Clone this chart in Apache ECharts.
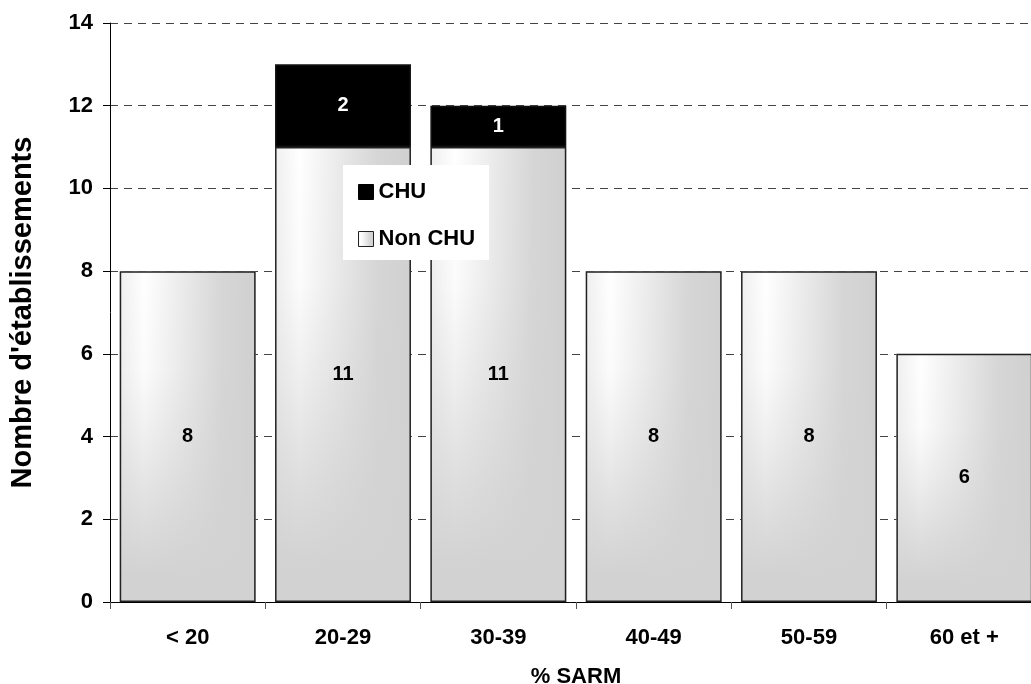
<!DOCTYPE html>
<html>
<head>
<meta charset="utf-8">
<script src="https://cdn.jsdelivr.net/npm/echarts@6/dist/echarts.min.js"></script>
<style>
html,body{margin:0;padding:0;background:#fff;}
#chart{width:1031px;height:684px;}
</style>
</head>
<body>
<div id="chart"></div>
<script>
const categories = ['< 20', '20-29', '30-39', '40-49', '50-59', '60 et +'];
const nonChuValues = [8, 11, 11, 8, 8, 6];
const chuValues = [0, 2, 1, 0, 0, 0];
const yTicks = [0, 2, 4, 6, 8, 10, 12, 14];

const FONT = "'Liberation Sans', Arial, sans-serif";

const baseFill = {
  type: 'linear', x: 0, y: 0, x2: 1, y2: 0,
  colorStops: [
    { offset: 0, color: '#efefef' },
    { offset: 0.18, color: '#ffffff' },
    { offset: 0.75, color: '#d6d6d6' },
    { offset: 1, color: '#d0d0d0' }
  ]
};
const shadeFill = {
  type: 'linear', x: 0, y: 0, x2: 0, y2: 1,
  colorStops: [
    { offset: 0, color: 'rgba(210,210,210,0)' },
    { offset: 0.3, color: 'rgba(210,210,210,0.08)' },
    { offset: 0.5, color: 'rgba(210,210,210,0.35)' },
    { offset: 0.75, color: 'rgba(210,210,210,0.75)' },
    { offset: 0.92, color: 'rgba(210,210,210,1)' },
    { offset: 1, color: 'rgba(210,210,210,1)' }
  ]
};

const chart = echarts.init(document.getElementById('chart'), null, { renderer: 'canvas' });
chart.setOption({
  backgroundColor: '#ffffff',
  animation: false,
  textStyle: { fontFamily: FONT },
  grid: { left: 110, top: 23, width: 932, height: 579, containLabel: false, outerBoundsMode: 'none' },
  legend: {
    orient: 'vertical',
    left: 343, top: 165,
    backgroundColor: '#ffffff',
    padding: [16, 14, 10, 15],
    icon: 'rect',
    itemWidth: 15, itemHeight: 15,
    itemGap: 25,
    textStyle: { fontFamily: FONT, fontSize: 22, fontWeight: 'bold', color: '#000', lineHeight: 20 },
    data: [
      { name: 'CHU', itemStyle: { color: '#000', borderColor: '#000', borderWidth: 1 } },
      { name: 'Non CHU', itemStyle: { borderColor: '#222', borderWidth: 1 } }
    ]
  },
  xAxis: {
    type: 'category',
    data: categories,
    boundaryGap: true,
    name: '% SARM',
    nameLocation: 'middle',
    nameGap: 64,
    nameTextStyle: { fontFamily: FONT, fontSize: 22, fontWeight: 'bold', color: '#000' },
    axisLine: { show: true, lineStyle: { color: '#000', width: 1 } },
    axisTick: { show: true, alignWithLabel: false, length: 7, lineStyle: { color: '#555' } },
    axisLabel: { fontFamily: FONT, fontSize: 22, fontWeight: 'bold', color: '#000', margin: 25 },
    splitLine: { show: false }
  },
  yAxis: {
    type: 'value',
    min: yTicks[0], max: yTicks[yTicks.length - 1], interval: 2,
    name: "Nombre d'établissements",
    nameLocation: 'middle',
    nameGap: 73,
    nameRotate: 90,
    nameTextStyle: { fontFamily: FONT, fontSize: 29, fontWeight: 'bold', color: '#000' },
    axisLine: { show: true, lineStyle: { color: '#000', width: 1 } },
    axisTick: { show: true, length: 7, lineStyle: { color: '#000' } },
    axisLabel: { fontFamily: FONT, fontSize: 22, fontWeight: 'bold', color: '#000', margin: 17 },
    splitLine: { show: true, lineStyle: { color: '#444', type: [8, 6], width: 1 } }
  },
  series: [
    {
      name: 'Non CHU',
      type: 'bar',
      stack: 'base',
      barCategoryGap: '12.5%',
      barGap: '-100%',
      data: nonChuValues,
      itemStyle: { color: baseFill, borderWidth: 0 },
      label: { show: false }
    },
    {
      name: 'CHU',
      type: 'bar',
      stack: 'base',
      data: chuValues.map(v => v === 0 ? '-' : v),
      itemStyle: { color: '#000', borderColor: '#111', borderWidth: 1.5 },
      label: {
        show: true, position: 'inside', color: '#fff',
        fontFamily: FONT, fontSize: 20, fontWeight: 'bold'
      }
    },
    {
      name: 'shade',
      type: 'bar',
      stack: 'shade',
      barGap: '-100%',
      data: nonChuValues,
      itemStyle: { color: shadeFill, borderColor: '#222', borderWidth: 1.5 },
      label: {
        show: true, position: 'inside', color: '#000',
        fontFamily: FONT, fontSize: 20, fontWeight: 'bold'
      }
    }
  ]
});
</script>
</body>
</html>
